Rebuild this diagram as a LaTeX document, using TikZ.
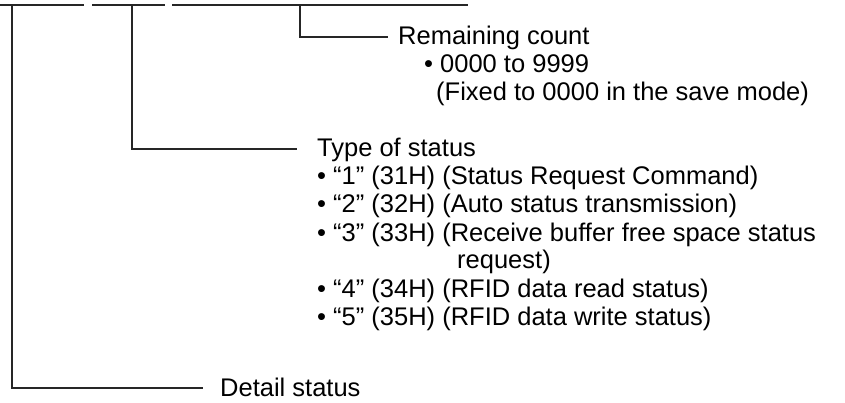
\documentclass[tikz,border=0pt]{standalone}
\usepackage{fontspec}
\setmainfont{Liberation Sans}
\begin{document}
\begin{tikzpicture}[x=1pt,y=-1pt,
  txt/.style={anchor=base west,inner sep=0pt,font=\fontsize{25.5}{28}\selectfont},
  conn/.style={line width=1.1pt,draw=black!85}]
\useasboundingbox (0,0) rectangle (845,403);
% top segments
\coordinate (a1) at (0,5);   \coordinate (a2) at (84,5);
\coordinate (b1) at (92,5);  \coordinate (b2) at (165,5);
\coordinate (c1) at (172,5); \coordinate (c2) at (468,5);
\draw[conn] (a1) -- (a2);
\draw[conn] (b1) -- (b2);
\draw[conn] (c1) -- (c2);
% remaining count
\coordinate (rcv) at (300,5);
\coordinate (rce) at (388,37);
\draw[conn] (rcv) |- (rce);
\node[txt] (rc) at (398,45) {Remaining count};
\node[txt] (rcb) at (424,73) {•};
\node[txt] (rc1) at (440,73) {0000 to 9999};
\node[txt] (rc2) at (436,101) {(Fixed to 0000 in the save mode)};
% type of status
\coordinate (tsv) at (132,5);
\coordinate (tse) at (297,149);
\draw[conn] (tsv) |- (tse);
\node[txt] (ts) at (317,157) {Type of status};
\node[txt] (ts1) at (317,185) {• “1” (31H) (Status Request Command)};
\node[txt] (ts2) at (317,213) {• “2” (32H) (Auto status transmission)};
\node[txt] (ts3) at (317,241) {• “3” (33H) (Receive buffer free space status};
\node[txt] (ts3b) at (457,269) {request)};
\node[txt] (ts4) at (317,297) {• “4” (34H) (RFID data read status)};
\node[txt] (ts5) at (317,325) {• “5” (35H) (RFID data write status)};
% detail status
\coordinate (dsv) at (12,5);
\coordinate (dse) at (203,388);
\draw[conn] (dsv) |- (dse);
\node[txt] (ds) at (220,396) {Detail status};
\end{tikzpicture}
\end{document}
